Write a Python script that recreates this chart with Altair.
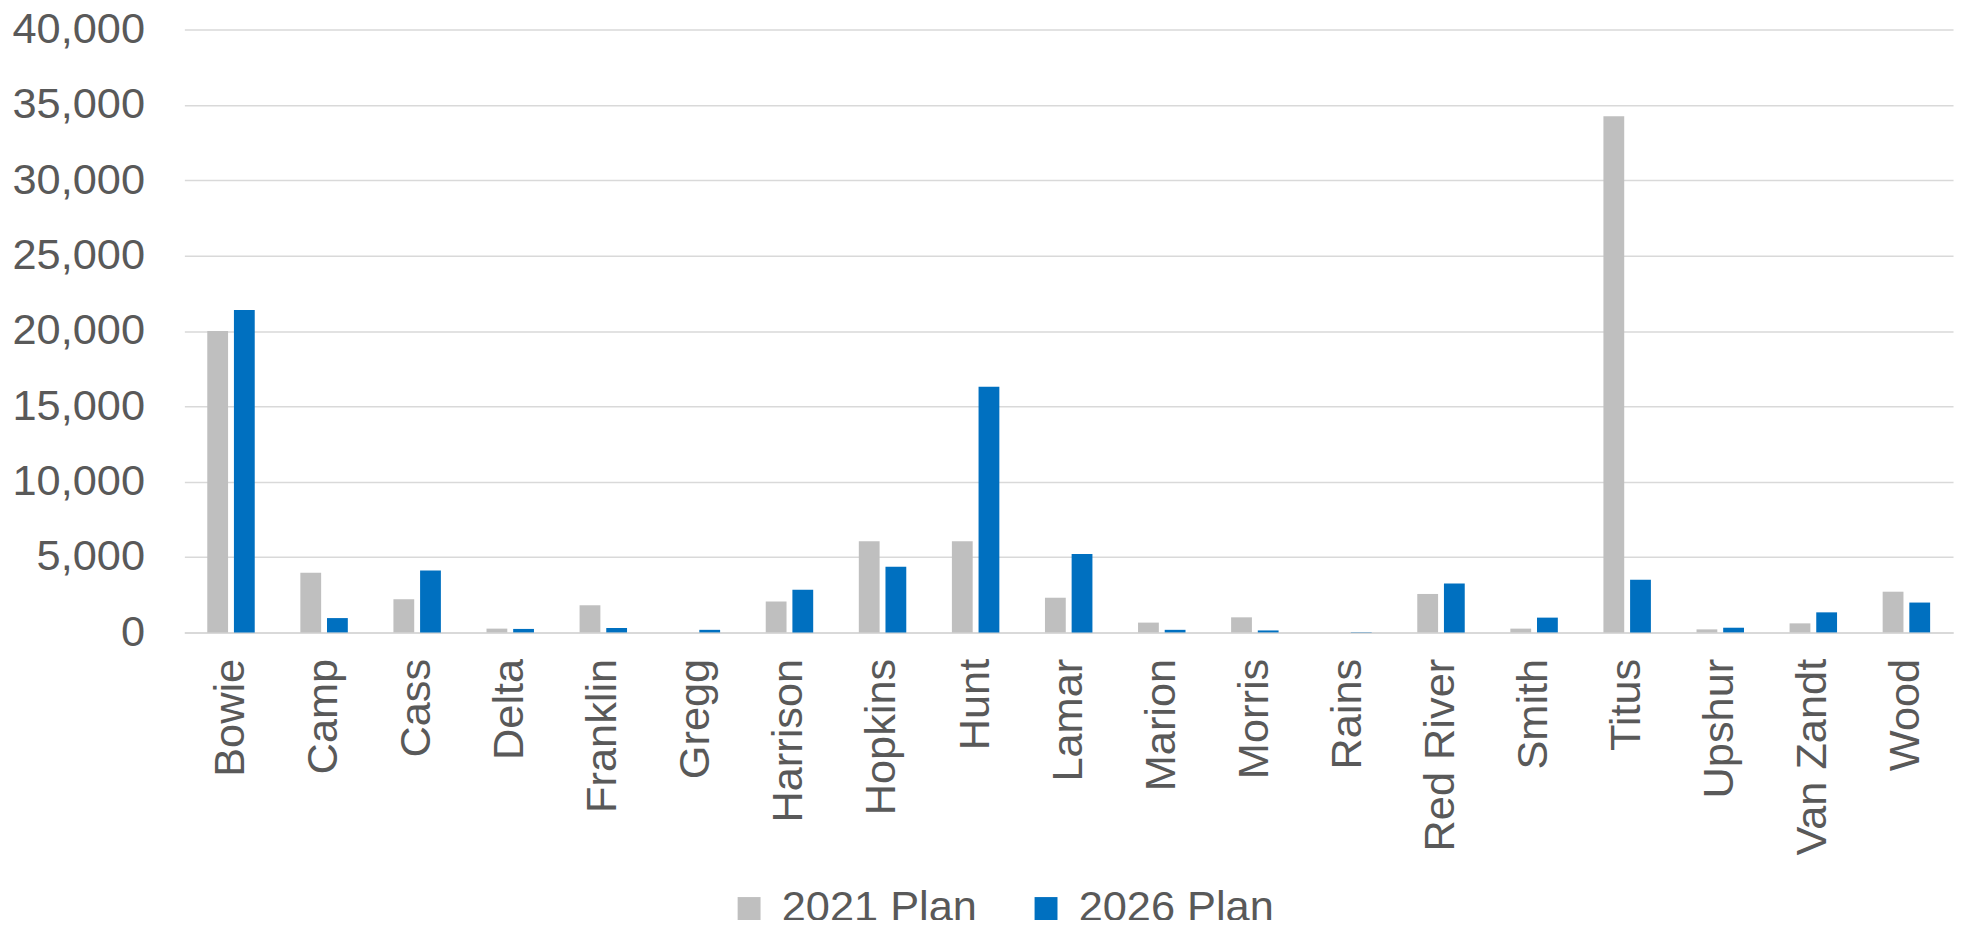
import altair as alt
import pandas as pd

counties = ["Bowie", "Camp", "Cass", "Delta", "Franklin", "Gregg", "Harrison", "Hopkins",
            "Hunt", "Lamar", "Marion", "Morris", "Rains", "Red River", "Smith", "Titus",
            "Upshur", "Van Zandt", "Wood"]
plan_2021 = [20000, 3950, 2200, 250, 1800, 0, 2050, 6050, 6050, 2300, 650, 1000, 0,
             2550, 250, 34250, 200, 600, 2700]
plan_2026 = [21400, 950, 4100, 230, 290, 170, 2830, 4350, 16300, 5200, 170, 130, 20,
             3250, 980, 3500, 310, 1330, 1980]
series = ["2021 Plan", "2026 Plan"]
colors = ["#BFBFBF", "#0070C0"]
y_ticks = [0, 5000, 10000, 15000, 20000, 25000, 30000, 35000, 40000]

rows = []
for c, a, b in zip(counties, plan_2021, plan_2026):
    rows.append({"County": c, "Plan": series[0], "Value": a})
    rows.append({"County": c, "Plan": series[1], "Value": b})
df = pd.DataFrame(rows)

FONT = "Liberation Sans"
TXT = "#595959"
FS = 43.5

chart = alt.Chart(df).mark_bar().encode(
    x=alt.X("County:N", sort=counties, title=None,
            scale=alt.Scale(paddingInner=0.49, paddingOuter=0.246),
            axis=alt.Axis(labelAngle=270, labelFontSize=FS, labelColor=TXT, labelFont=FONT,
                          ticks=False, domainColor="#D9D9D9", domainWidth=2, labelLimit=0,
                          labelPadding=26, labelAlign="right", labelBaseline="middle")),
    xOffset=alt.XOffset("Plan:N", sort=series, scale=alt.Scale(paddingInner=0.22)),
    y=alt.Y("Value:Q", title=None,
            scale=alt.Scale(domain=[0, 40000], nice=False),
            axis=alt.Axis(values=y_ticks, format=",.0f", labelFontSize=FS, labelColor=TXT,
                          labelFont=FONT, ticks=False, domain=False, gridColor="#D9D9D9",
                          gridWidth=1.5, labelPadding=40)),
    color=alt.Color("Plan:N", sort=series,
                    scale=alt.Scale(domain=series, range=colors),
                    legend=alt.Legend(title=None, orient="none", direction="horizontal",
                                      legendX=545, legendY=860, padding=0,
                                      symbolType="square", symbolSize=529, symbolStrokeWidth=0,
                                      labelFontSize=FS, labelColor=TXT, labelFont=FONT,
                                      labelLimit=0, labelOffset=11,
                                      columnPadding=47, symbolOffset=0)),
).properties(
    width=1775, height=605,
    autosize=alt.AutoSizeParams(type="none"),
    padding={"left": 177, "top": 20, "right": 8, "bottom": 287},
).configure_view(stroke=None)

chart.save("out.html", embed_options={"renderer": "svg", "actions": False})
